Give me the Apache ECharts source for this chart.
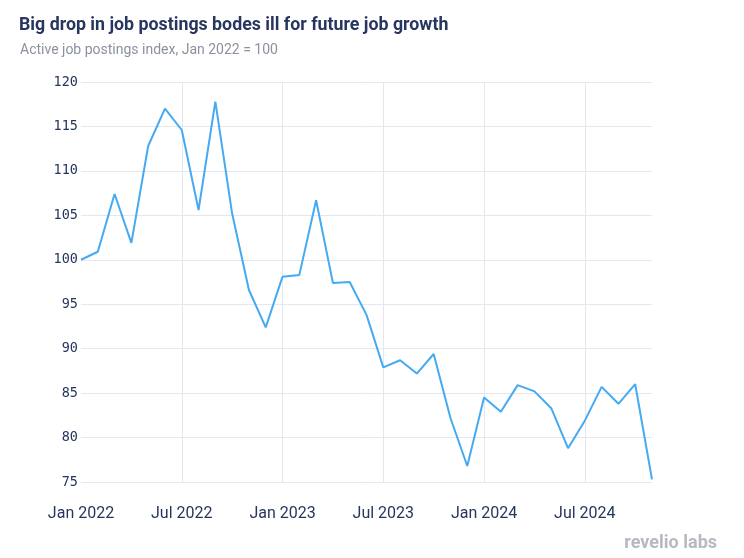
<!DOCTYPE html>
<html>
<head>
<meta charset="utf-8">
<script src="https://cdn.jsdelivr.net/npm/echarts@6/dist/echarts.min.js"></script>
<style>html,body{margin:0;padding:0;background:#fff}#c{width:744px;height:558px}</style>
</head>
<body>
<div id="c"></div>
<script>
const months = ['Jan','Feb','Mar','Apr','May','Jun','Jul','Aug','Sep','Oct','Nov','Dec'];
const categories = [];
for (let y = 2022; y <= 2024; y++) for (let m = 0; m < 12; m++) {
  if (y === 2024 && m > 10) break;
  categories.push(months[m] + ' ' + y);
}
const values = [100.0, 100.9, 107.4, 101.9, 112.8, 117.0, 114.6, 105.6, 117.8, 105.2,
  96.6, 92.4, 98.1, 98.3, 106.7, 97.4, 97.5, 93.8, 87.9, 88.7,
  87.2, 89.4, 82.2, 76.8, 84.5, 82.9, 85.9, 85.2, 83.3, 78.8,
  81.9, 85.7, 83.8, 86.0, 75.3];
const yTicks = [75, 80, 85, 90, 95, 100, 105, 110, 115, 120];

const chart = echarts.init(document.getElementById('c'));
chart.setOption({
  animation: false,
  title: [
    { text: 'Big drop in job postings bodes ill for future job growth', left: 14, top: 12,
      textStyle: { fontFamily: 'Roboto', fontSize: 17.8, fontWeight: 'bold', color: '#26365e' } },
    { text: 'Active job postings index, Jan 2022 = 100', left: 15, top: 38,
      textStyle: { fontFamily: 'Roboto', fontSize: 14, fontWeight: 'normal', color: '#8b929b' } },
    { text: 'revelio labs', right: 22, bottom: 1,
      textStyle: { fontFamily: 'Roboto', fontSize: 18, fontWeight: 'bold', color: '#b6b9be' } }
  ],
  grid: { left: 81, right: 92, top: 82, bottom: 76, containLabel: false },
  xAxis: {
    type: 'category', data: categories, boundaryGap: false,
    axisLine: { show: false }, axisTick: { show: false },
    axisLabel: { interval: 5, margin: 24, fontFamily: 'Roboto', fontSize: 16, color: '#26365e' },
    splitLine: { show: true, interval: (i) => i % 6 === 0 && i > 0, lineStyle: { color: '#e6e7ee', width: 1 } }
  },
  yAxis: {
    type: 'value', min: yTicks[0], max: yTicks[yTicks.length - 1], interval: 5,
    axisLine: { show: false }, axisTick: { show: false },
    axisLabel: { margin: 3, fontFamily: 'DejaVu Sans Mono', fontSize: 13.5, color: '#26365e' },
    splitLine: { lineStyle: { color: '#e6e7ee', width: 1 } }
  },
  series: [{
    type: 'line', data: values, symbol: 'none',
    lineStyle: { color: '#45aaf2', width: 2 }
  }]
});
</script>
</body>
</html>
